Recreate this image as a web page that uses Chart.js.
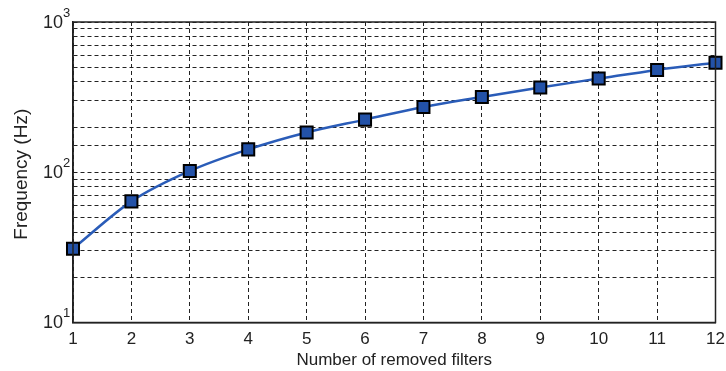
<!DOCTYPE html>
<html>
<head>
<meta charset="utf-8">
<script src="https://cdn.jsdelivr.net/npm/chart.js@4.4.1/dist/chart.umd.min.js"></script>
<style>
  html, body { margin: 0; padding: 0; background: #fff; }
  #wrap { width: 726px; height: 371px; }
</style>
</head>
<body>
<div id="wrap"><canvas id="myChart"></canvas></div>
<script>
'use strict';
// removed filters vs frequency (Hz)
const filters = [1, 2, 3, 4, 5, 6, 7, 8, 9, 10, 11, 12];
const freqHz = [31, 64, 102, 142, 184, 224, 272, 317, 367, 420, 480, 535];
const decades = [10, 100, 1000];
const decadeExp = ['1', '2', '3'];
const yTitle = 'Frequency (Hz)';
const xTitle = 'Number of removed filters';

const points = [];
for (let i = 0; i < filters.length; i++) {
  points.push({x: filters[i], y: freqHz[i]});
}

// box edges, 10^n labels and the y title
const decorPlugin = {
  id: 'decor',
  afterDraw(chart) {
    const a = chart.chartArea;
    const ctx = chart.ctx;
    const y = chart.scales.y;
    ctx.save();
    ctx.strokeStyle = '#222';
    ctx.lineWidth = 1.5;
    ctx.setLineDash([]);
    ctx.strokeRect(a.left, a.top, a.right - a.left, a.bottom - a.top);

    ctx.fillStyle = '#222';
    for (let i = 0; i < decades.length; i++) {
      const py = y.getPixelForValue(decades[i]) + 1;
      ctx.font = '18px "Liberation Sans"';
      ctx.textAlign = 'right';
      ctx.textBaseline = 'middle';
      ctx.fillText('10', a.left - 10, py);
      ctx.font = '13px "Liberation Sans"';
      ctx.textAlign = 'left';
      ctx.fillText(decadeExp[i], a.left - 10, py - 10);
    }

    ctx.translate(22, (a.top + a.bottom) / 2 + 2);
    ctx.rotate(-Math.PI / 2);
    ctx.font = '19px "Liberation Sans"';
    ctx.textAlign = 'center';
    ctx.textBaseline = 'middle';
    ctx.fillText(yTitle, 0, 0);
    ctx.restore();
  }
};

const context = document.getElementById('myChart').getContext('2d');
const chart = new Chart(context, {
  type: 'line',
  data: {
    datasets: [{
      label: 'Frequency',
      data: points,
      borderColor: '#2a5cb8',
      borderWidth: 2.5,
      backgroundColor: '#2352a8',
      pointStyle: 'rect',
      pointRadius: 8.5,
      pointBorderColor: '#000',
      pointBorderWidth: 2,
      cubicInterpolationMode: 'monotone',
      clip: false
    }]
  },
  options: {
    responsive: true,
    maintainAspectRatio: false,
    animation: false,
    layout: { padding: { left: 0, right: 0, top: 22, bottom: 0 } },
    plugins: {
      legend: { display: false },
      tooltip: { enabled: false }
    },
    scales: {
      x: {
        type: 'linear',
        min: 1,
        max: 12,
        afterFit(scale) {
          scale.height = 48.5;
          scale.paddingRight = 9;
        },
        ticks: {
          stepSize: 1,
          color: '#222',
          font: { family: 'Liberation Sans', size: 17 },
          padding: 7
        },
        grid: { color: '#222', lineWidth: 1, drawTicks: false },
        border: { color: '#222', width: 1.5, dash: [4, 3] },
        title: {
          display: true,
          text: xTitle,
          color: '#222',
          font: { family: 'Liberation Sans', size: 17 },
          padding: { top: 0, bottom: 0 }
        }
      },
      y: {
        type: 'logarithmic',
        min: 10,
        max: 1000,
        afterFit(scale) { scale.width = 73; },
        ticks: {
          autoSkip: false,
          callback() { return ''; }
        },
        grid: { color: '#222', lineWidth: 1, drawTicks: false },
        border: { color: '#222', width: 1.5, dash: [4, 3] }
      }
    }
  },
  plugins: [decorPlugin]
});
</script>
</body>
</html>
